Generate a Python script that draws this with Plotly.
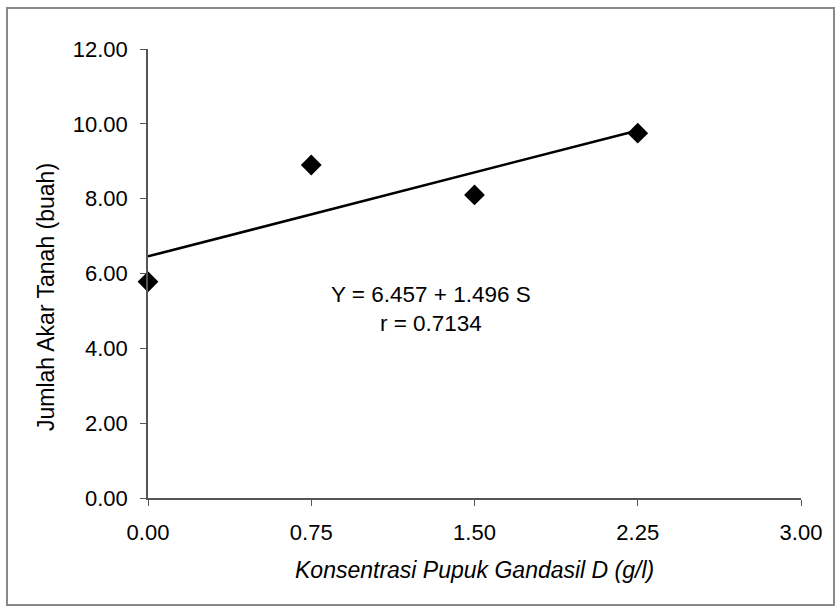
import plotly.graph_objects as go

x_vals = [0.0, 0.75, 1.5, 2.25]
y_vals = [5.78, 8.9, 8.1, 9.75]
intercept = 6.457
slope = 1.496
x_ticks = [0.0, 0.75, 1.5, 2.25, 3.0]
x_tick_labels = ["0.00", "0.75", "1.50", "2.25", "3.00"]
y_ticks = [0, 2, 4, 6, 8, 10, 12]
y_tick_labels = ["0.00", "2.00", "4.00", "6.00", "8.00", "10.00", "12.00"]
eq_text = "Y = 6.457 + 1.496 S<br>r = 0.7134"
x_title = "<i>Konsentrasi Pupuk Gandasil D (g/l)</i>"
y_title = "Jumlah Akar Tanah (buah)"

line_x = [x_vals[0], x_vals[-1]]
line_y = [intercept + slope * v for v in line_x]

fig = go.Figure()
fig.add_trace(go.Scatter(x=line_x, y=line_y, mode="lines",
                         line=dict(color="black", width=2.5), showlegend=False))
fig.add_trace(go.Scatter(x=x_vals, y=y_vals, mode="markers",
                         marker=dict(symbol="diamond", size=16, color="black"),
                         showlegend=False, cliponaxis=False))

font = "Liberation Sans, Arial, sans-serif"
fig.update_layout(
    width=836, height=609,
    margin=dict(l=148, r=35, t=49, b=111),
    paper_bgcolor="white", plot_bgcolor="white",
    font=dict(family=font, size=22, color="black"),
    xaxis=dict(range=[0, 3], tickvals=x_ticks, ticktext=x_tick_labels,
               showgrid=False, zeroline=False, showline=True, linecolor="#555",
               linewidth=1.5, ticks="outside", ticklen=6, tickcolor="#555",
               tickfont=dict(size=22), ticklabelstandoff=8),
    yaxis=dict(range=[0, 12], tickvals=y_ticks, ticktext=y_tick_labels,
               showgrid=False, zeroline=False, showline=True, linecolor="#555",
               linewidth=1.5, ticks="outside", ticklen=6, tickcolor="#555",
               tickfont=dict(size=22), ticklabelstandoff=8),
)
fig.add_annotation(xref="paper", yref="paper", x=0.5, y=-(570 - 498) / 449,
                   text=x_title, showarrow=False,
                   font=dict(size=23), xanchor="center", yanchor="middle")
fig.add_annotation(xref="paper", yref="paper", x=-(148 - 46) / 653, y=(498 - 297) / 449,
                   text=y_title, showarrow=False, textangle=-90,
                   font=dict(size=23), xanchor="center", yanchor="middle")
fig.add_annotation(x=1.30, y=5.05, text=eq_text, showarrow=False,
                   font=dict(size=22.5), align="center", xanchor="center", yanchor="middle")
fig.add_shape(type="rect", xref="paper", yref="paper",
              x0=-141/653, x1=(834 - 148)/653, y0=-(605-498)/449, y1=(498-8)/449,
              line=dict(color="#888", width=2))
fig.write_html("out.html")
